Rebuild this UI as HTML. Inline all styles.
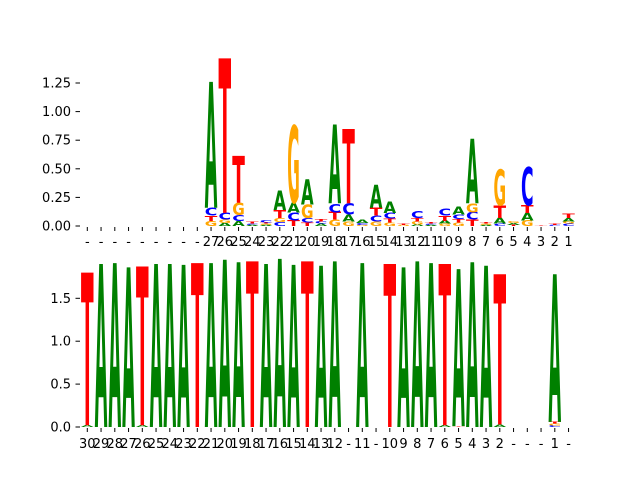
<!DOCTYPE html>
<html><head><meta charset="utf-8"><style>
html,body{margin:0;padding:0;background:#fff;}
svg text{font-family:"DejaVu Sans","Liberation Sans",sans-serif;}
</style></head><body>
<svg id="chart" width="640" height="480" viewBox="0 0 640 480" xmlns="http://www.w3.org/2000/svg">
<g id="top"></g>
<g id="bot"></g>
</svg>
<script>
const topLabels=["-","-","-","-","-","-","-","-","-","27","26","25","24","23","22","21","20","19","18","17","16","15","14","13","12","11","10","9","8","7","6","5","4","3","2","1"];
const topA=[0,0,0,0,0,0,0,0,0,1.10,.025,.045,.01,.01,.17,.085,.22,.02,.69,.06,.03,.20,.10,0,.015,.01,.025,.07,.56,.01,.05,.015,.065,0,0,.03];
const topC=[0,0,0,0,0,0,0,0,0,.07,.06,.05,.01,.02,.035,.07,.04,.02,.075,.10,.015,.05,.05,0,.06,.01,.06,.04,.065,0,.02,0,.335,0,.01,.02];
const topG=[0,0,0,0,0,0,0,0,0,.045,.03,.11,0,.01,.035,.67,.12,0,.055,.04,.01,.04,.03,.01,.025,0,.02,.03,.08,.01,.31,.015,.05,0,0,.02];
const topT=[0,0,0,0,0,0,0,0,0,.045,1.35,.41,.015,.01,.07,.05,.03,.02,.065,.65,0,.07,.035,.01,.03,.01,.045,.03,.055,.01,.11,.01,.065,.005,.01,.04];
const topTicks=[0,0.25,0.5,0.75,1.0,1.25];
const topTickLabels=["0.00","0.25","0.50","0.75","1.00","1.25"];

const botLabels=["30","29","28","27","26","25","24","23","22","21","20","19","18","17","16","15","14","13","12","-","11","-","10","9","8","7","6","5","4","3","2","-","-","-","1","-"];
const botA=[.02,1.90,1.91,1.86,.02,1.90,1.90,1.89,0,1.91,1.95,1.92,0,1.90,1.96,1.89,0,1.88,1.93,0,1.91,0,0,1.86,1.93,1.91,.02,1.83,1.92,1.88,.03,0,0,0,1.72,0];
const botC=[0,0,0,0,0,0,0,0,0,0,0,0,0,0,0,0,0,0,0,0,0,0,0,0,0,0,0,0,0,0,0,0,0,0,.02,0];
const botG=[0,0,0,0,0,0,0,0,0,0,0,0,0,0,0,0,0,0,0,0,0,0,0,0,0,0,0,0,0,0,0,0,0,0,.02,0];
const botT=[1.78,0,0,0,1.85,0,0,0,1.91,0,0,0,1.93,0,0,0,1.93,0,0,0,0,0,1.90,0,0,0,1.88,.01,0,0,1.75,0,0,0,.02,0];
const botTicks=[0,0.5,1.0,1.5];
const botTickLabels=["0.0","0.5","1.0","1.5"];

const NS="http://www.w3.org/2000/svg";
const colors={A:"#008000",C:"#0000ff",G:"#ffa500",T:"#ff0000"};
function xPos(i){return 87.3+13.75*i;}
function mk(tag,attrs,parent){const e=document.createElementNS(NS,tag);for(const k in attrs)e.setAttribute(k,attrs[k]);parent.appendChild(e);return e;}

function panel(g,y0,scale,A,C,G,T,labels,ticks,tickLabels,labelY){
  const yS=v=>y0-v*scale;
  for(let i=0;i<labels.length;i++){
    const items=[["A",A[i]],["C",C[i]],["G",G[i]],["T",T[i]]].filter(d=>d[1]>0).sort((a,b)=>a[1]-b[1]);
    let cum=0;
    const cx=xPos(i);
    for(const [L,v] of items){
      const h=v*scale;
      const yb=yS(cum);
      const t=mk("text",{x:0,y:0,"font-size":100,"font-weight":"bold",textLength:12.6,lengthAdjust:"spacingAndGlyphs",fill:colors[L],transform:"translate("+(cx-6.3)+","+yb+") scale(1,"+(h/72.9)+")"},g);
      
      
      t.textContent=L;
      cum+=v;
    }
    const tk=mk("line",{x1:cx,x2:cx,y1:y0+1,y2:y0+5,stroke:"#000","stroke-width":1},g);
    
    
    const tl=mk("text",{x:cx,y:labelY,"font-size":13,"text-anchor":"middle",fill:"#000"},g);
    
    
    tl.textContent=labels[i];
  }
  for(let j=0;j<ticks.length;j++){
    const y=yS(ticks[j]);
    const tk=mk("line",{x1:75.5,x2:80,y1:y,y2:y,stroke:"#000","stroke-width":1},g);
    
    
    const tl=mk("text",{x:71,y:y+4.5,"font-size":13,"text-anchor":"end",fill:"#000"},g);
    
    
    tl.textContent=tickLabels[j];
  }
}
panel(document.getElementById("top"),226,114.4,topA,topC,topG,topT,topLabels,topTicks,topTickLabels,246);
panel(document.getElementById("bot"),427,85.8,botA,botC,botG,botT,botLabels,botTicks,botTickLabels,448);
</script>
</body></html>
